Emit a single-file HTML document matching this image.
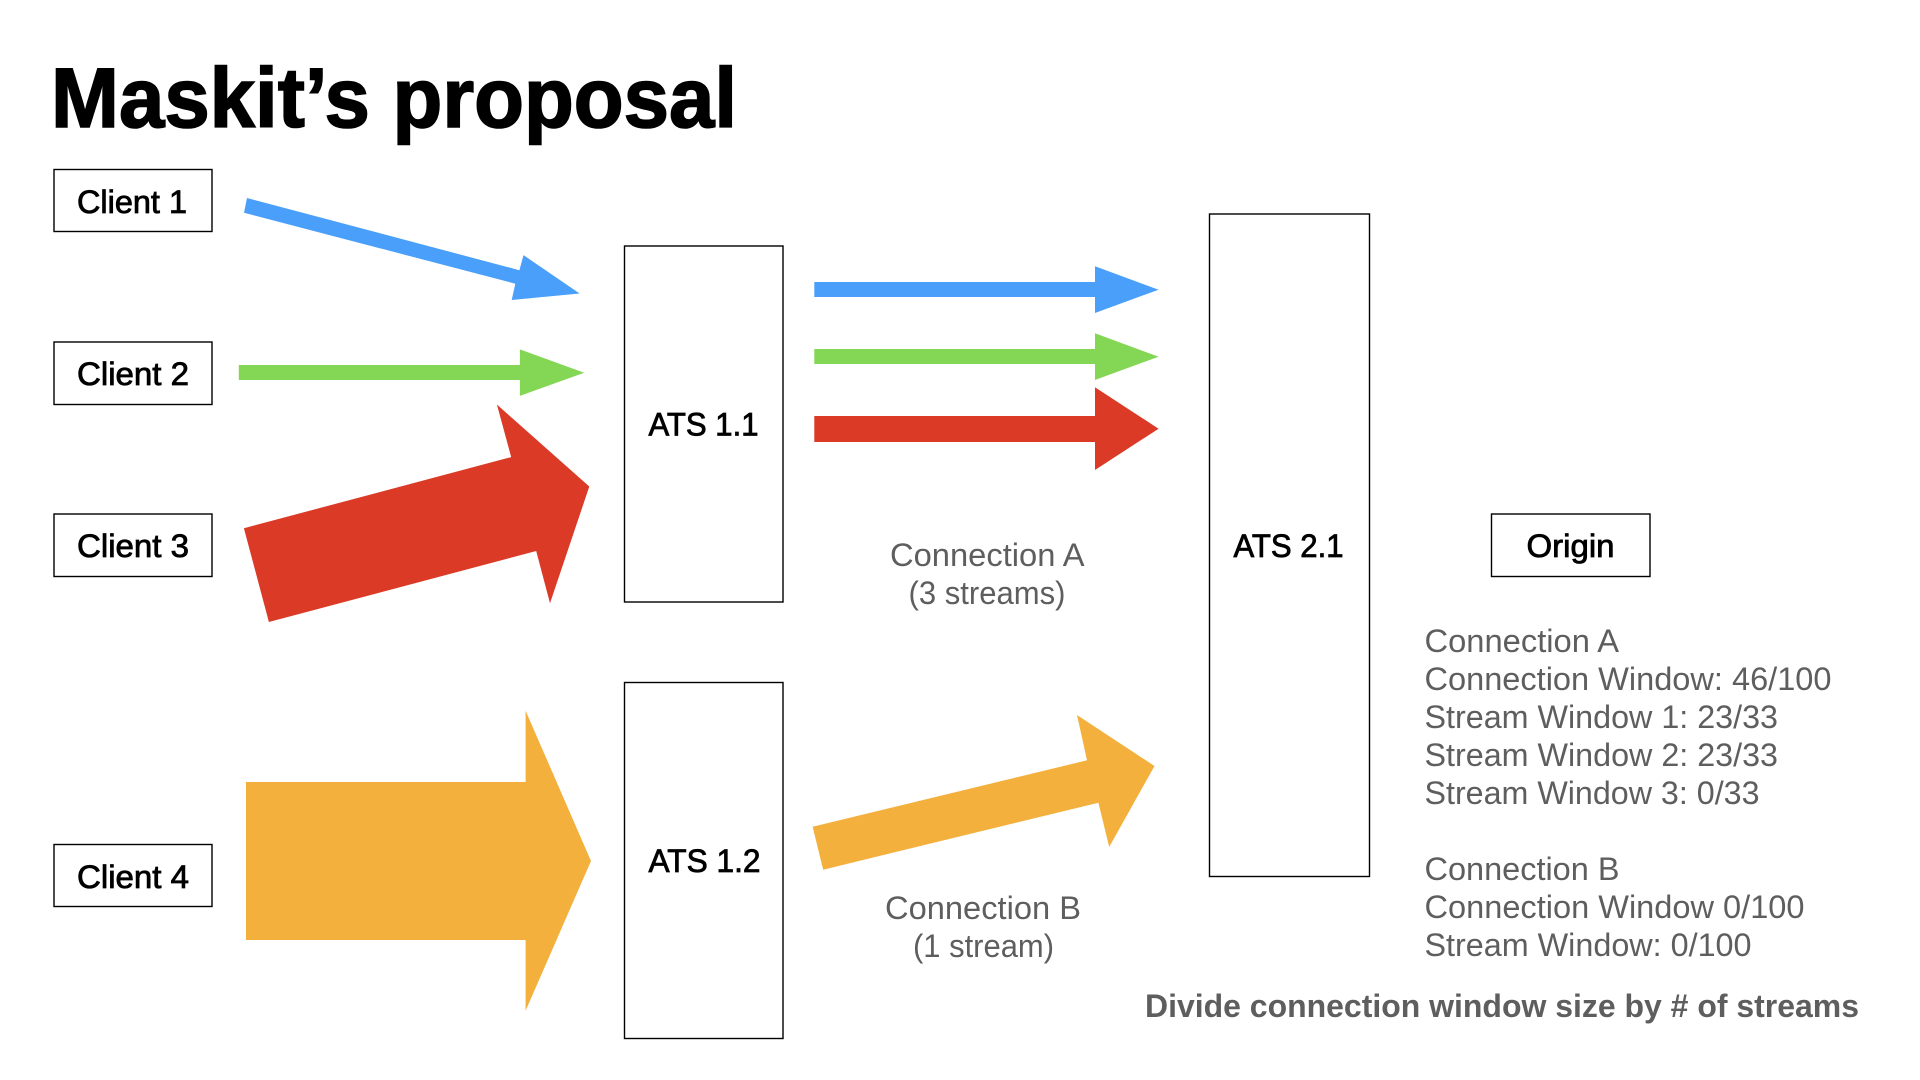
<!DOCTYPE html>
<html lang="en">
<head>
<meta charset="utf-8">
<title>Maskit's proposal</title>
<style>
html,body{margin:0;padding:0;background:#fff;width:1920px;height:1080px;overflow:hidden}
svg{display:block}
text{font-family:"Liberation Sans",sans-serif;font-size:32px}
.k{fill:#000;stroke:#000;stroke-width:.8}
.g{fill:#5e5e5e}
.b{font-weight:bold}
rect{fill:#fff;stroke:#000;stroke-width:1.4}
</style>
</head>
<body>
<svg width="1920" height="1080" viewBox="0 0 1920 1080" xmlns="http://www.w3.org/2000/svg">
<rect x="0" y="0" width="1920" height="1080" style="stroke:none"/>
<text x="51" y="127" class="k b" style="font-size:84px;stroke-width:1.6" textLength="686" lengthAdjust="spacingAndGlyphs">Maskit’s proposal</text>

<rect x="54" y="169.5" width="158" height="62"/>
<rect x="54" y="342" width="158" height="62.5"/>
<rect x="54" y="514" width="158" height="62.5"/>
<rect x="54" y="844.5" width="158" height="62"/>
<rect x="624.5" y="246" width="158.5" height="356"/>
<rect x="624.5" y="682.5" width="158.5" height="356"/>
<rect x="1209.5" y="214" width="160" height="662.5"/>
<rect x="1491.5" y="514" width="158.5" height="62.5"/>

<text x="77" y="213" class="k" textLength="110" lengthAdjust="spacingAndGlyphs">Client 1</text>
<text x="77" y="385" class="k" textLength="112" lengthAdjust="spacingAndGlyphs">Client 2</text>
<text x="77" y="557" class="k" textLength="112" lengthAdjust="spacingAndGlyphs">Client 3</text>
<text x="77" y="888" class="k" textLength="112" lengthAdjust="spacingAndGlyphs">Client 4</text>
<text x="648.5" y="435.5" class="k" textLength="110" lengthAdjust="spacingAndGlyphs">ATS 1.1</text>
<text x="648.5" y="872" class="k" textLength="112" lengthAdjust="spacingAndGlyphs">ATS 1.2</text>
<text x="1233.5" y="557" class="k" textLength="110" lengthAdjust="spacingAndGlyphs">ATS 2.1</text>
<text x="1526.5" y="557" class="k" textLength="88" lengthAdjust="spacingAndGlyphs">Origin</text>

<polygon fill="#4a9ffa" points="247,198 519.4,270.2 523.5,255.1 579.6,293.5 511.7,300 515.3,283.7 244,212.7"/>
<polygon fill="#83d754" points="238.8,365 519.9,365 519.9,349.4 584.2,372.7 519.9,395.9 519.9,380 238.8,380"/>
<polygon fill="#db3a26" points="243.9,528.2 511.2,457.1 496.9,404.5 589.3,486.5 550,603.3 536.2,551 268.9,622"/>

<polygon fill="#4a9ffa" points="814.3,282 1095,282 1095,266.3 1158.6,289.7 1095,313 1095,297 814.3,297"/>
<polygon fill="#83d754" points="814.3,349 1095,349 1095,333.3 1158.6,356.7 1095,380 1095,364 814.3,364"/>
<polygon fill="#db3a26" points="814.3,416 1095,416 1095,387.3 1158.6,428.7 1095,470 1095,442 814.3,442"/>

<polygon fill="#f3b03d" points="246,782 525.6,782 525.6,710.7 591,861 525.6,1010.7 525.6,940 246,940"/>
<polygon fill="#f3b03d" points="812.6,826.7 1087,760.3 1077,715 1154.5,766 1109.2,847 1098.4,802.7 823.2,869.7"/>

<text x="890" y="566" class="g" textLength="194.5" lengthAdjust="spacingAndGlyphs">Connection A</text>
<text x="908.5" y="604" class="g" textLength="157" lengthAdjust="spacingAndGlyphs">(3 streams)</text>
<text x="885" y="919" class="g" textLength="196" lengthAdjust="spacingAndGlyphs">Connection B</text>
<text x="913" y="957" class="g" textLength="141" lengthAdjust="spacingAndGlyphs">(1 stream)</text>

<text x="1424.5" y="652" class="g" textLength="194.5" lengthAdjust="spacingAndGlyphs">Connection A</text>
<text x="1424.5" y="690" class="g" textLength="407" lengthAdjust="spacingAndGlyphs">Connection Window: 46/100</text>
<text x="1424.5" y="728" class="g" textLength="353.5" lengthAdjust="spacingAndGlyphs">Stream Window 1: 23/33</text>
<text x="1424.5" y="766" class="g" textLength="353.5" lengthAdjust="spacingAndGlyphs">Stream Window 2: 23/33</text>
<text x="1424.5" y="804" class="g" textLength="335" lengthAdjust="spacingAndGlyphs">Stream Window 3: 0/33</text>
<text x="1424.5" y="880" class="g" textLength="195" lengthAdjust="spacingAndGlyphs">Connection B</text>
<text x="1424.5" y="918" class="g" textLength="380" lengthAdjust="spacingAndGlyphs">Connection Window 0/100</text>
<text x="1424.5" y="956" class="g" textLength="327" lengthAdjust="spacingAndGlyphs">Stream Window: 0/100</text>
<text x="1145" y="1017" class="g b" textLength="714" lengthAdjust="spacingAndGlyphs">Divide connection window size by # of streams</text>
</svg>
</body>
</html>
